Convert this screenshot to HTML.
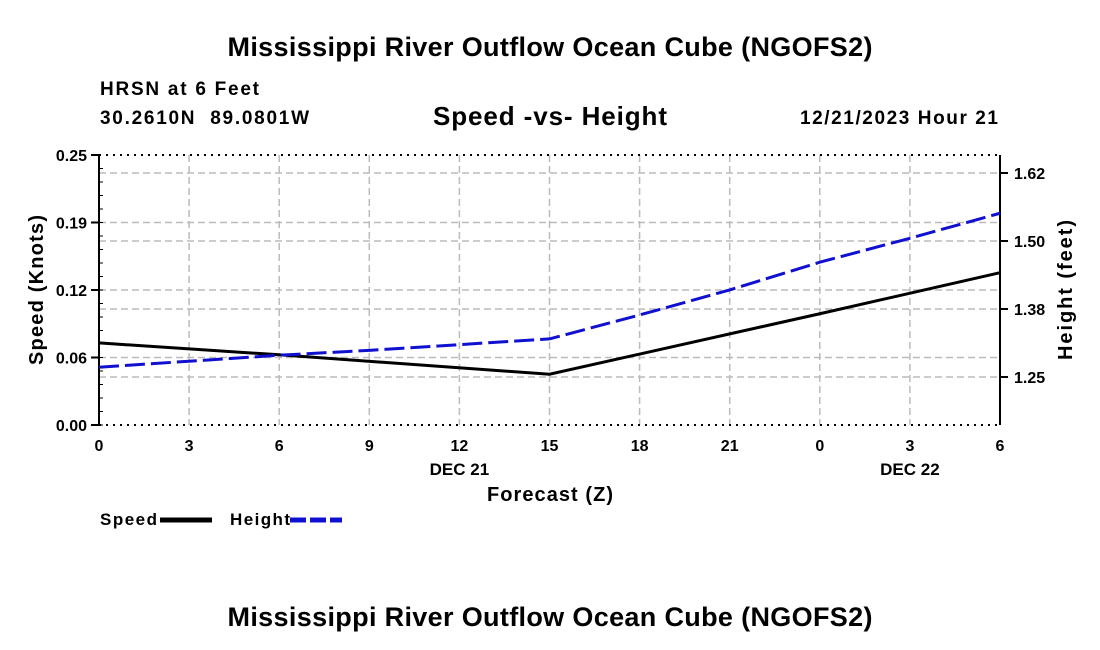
<!DOCTYPE html>
<html><head><meta charset="utf-8"><style>
body{margin:0;background:#fff;}
svg{display:block;font-family:"Liberation Sans",sans-serif;font-weight:bold;}
</style></head><body>
<svg id="c" width="1100" height="650" viewBox="0 0 1100 650">
<text x="550" y="56" text-anchor="middle" font-size="27" textLength="645">Mississippi River Outflow Ocean Cube (NGOFS2)</text>
<text x="100" y="95" font-size="19" textLength="159">HRSN at 6 Feet</text>
<text x="100" y="124" font-size="19" textLength="209" xml:space="preserve">30.2610N  89.0801W</text>
<text x="550" y="125" text-anchor="middle" font-size="26" textLength="234">Speed -vs- Height</text>
<text x="800" y="124" font-size="19" textLength="198">12/21/2023 Hour 21</text>
<g id="grid"></g><g id="axes"></g><g id="series"></g>
<text x="550" y="501" text-anchor="middle" font-size="20" textLength="126">Forecast (Z)</text>
<text transform="translate(43,290) rotate(-90)" text-anchor="middle" font-size="20" textLength="150">Speed (Knots)</text>
<text transform="translate(1072,290) rotate(-90)" text-anchor="middle" font-size="20" textLength="140">Height (feet)</text>
<text x="100" y="525" font-size="17" textLength="57">Speed</text>
<line x1="160" y1="520" x2="212" y2="520" stroke="#000" stroke-width="5"/>
<text x="230" y="525" font-size="17" textLength="60">Height</text>
<line x1="290" y1="520" x2="342" y2="520" stroke="#1010d0" stroke-width="5" stroke-dasharray="16,4"/>
<text x="550" y="626" text-anchor="middle" font-size="27" textLength="645">Mississippi River Outflow Ocean Cube (NGOFS2)</text>
</svg>
<script>
const hours=[0,6,15,24,30];
const speed=[0.076,0.065,0.047,0.103,0.141];
const heightHours=[0,6,9,15,18,21,24,27,30];
const heightVals=[1.268,1.290,1.299,1.320,1.364,1.410,1.461,1.505,1.551];
const xTickLabels=["0","3","6","9","12","15","18","21","0","3","6"];
const leftTicks=[0,0.0625,0.125,0.1875,0.25];
const leftTickLabels=["0.00","0.06","0.12","0.19","0.25"];
const rightTicks=[1.25,1.375,1.5,1.625];
const rightTickLabels=["1.25","1.38","1.50","1.62"];
const X0=99,X1=1000,Y0=425,Y1=155;
const xs=h=>X0+(X1-X0)*h/30;
const ysL=v=>Y0-(Y0-Y1)*v/0.25;
const ysR=v=>377-(v-1.25)*544;
const NS="http://www.w3.org/2000/svg";
function mk(p,t,a){const e=document.createElementNS(NS,t);for(const k in a)e.setAttribute(k,a[k]);p.appendChild(e);return e;}
const grid=document.getElementById('grid'),axes=document.getElementById('axes'),ser=document.getElementById('series');
xTickLabels.forEach((l,i)=>{const x=xs(i*3);
 if(i>0&&i<10){const g=mk(grid,'line',{x1:x,x2:x,y1:Y1,y2:Y0,stroke:'#bbb','stroke-width':1.5,'stroke-dasharray':'7,4'});
 
 }
 const t=mk(axes,'text',{x:x,y:451,'text-anchor':'middle','font-size':16});t.textContent=l;
 
 });
leftTicks.forEach((v,i)=>{const y=ysL(v);
 if(i>0&&i<4){const g=mk(grid,'line',{x1:X0,x2:X1,y1:y,y2:y,stroke:'#bbb','stroke-width':1.5,'stroke-dasharray':'7,4'});
 
 }
 mk(axes,'line',{x1:X0-8,x2:X0,y1:y,y2:y,stroke:'#000','stroke-width':2});
 const t=mk(axes,'text',{x:X0-12,y:y+6,'text-anchor':'end','font-size':16});t.textContent=leftTickLabels[i];
 
 });
for(let v=0;v<=0.25;v+=0.0125){mk(axes,'line',{x1:X0,x2:X0+4,y1:ysL(v),y2:ysL(v),stroke:'#000','stroke-width':1});}
rightTicks.forEach((v,i)=>{const y=ysR(v);
 const g=mk(grid,'line',{x1:X0,x2:X1,y1:y,y2:y,stroke:'#bbb','stroke-width':1.5,'stroke-dasharray':'7,4'});
 
 
 mk(axes,'line',{x1:X1,x2:X1+8,y1:y,y2:y,stroke:'#000','stroke-width':2});
 const t=mk(axes,'text',{x:X1+14,y:y+6,'font-size':16});t.textContent=rightTickLabels[i];
 
 });
mk(axes,'line',{x1:X0,x2:X1,y1:Y1,y2:Y1,stroke:'#000','stroke-width':2,'stroke-dasharray':'2,5'});
mk(axes,'line',{x1:X0,x2:X1,y1:Y0,y2:Y0,stroke:'#000','stroke-width':2,'stroke-dasharray':'2,5'});
mk(axes,'line',{x1:X0,x2:X0,y1:Y1,y2:Y0,stroke:'#000','stroke-width':2});
mk(axes,'line',{x1:X1,x2:X1,y1:Y1,y2:Y0,stroke:'#000','stroke-width':2});
[["DEC 21",12],["DEC 22",27]].forEach(([l,h])=>{const t=mk(axes,'text',{x:xs(h),y:475,'text-anchor':'middle','font-size':17});t.textContent=l;
 
 });
const sp=mk(ser,'polyline',{points:hours.map((h,i)=>xs(h)+','+ysL(speed[i])).join(' '),fill:'none',stroke:'#000','stroke-width':3});


const hl=mk(ser,'polyline',{points:heightHours.map((h,i)=>xs(h)+','+ysR(heightVals[i])).join(' '),fill:'none',stroke:'#1010d0','stroke-width':3,'stroke-dasharray':'20,6'});


</script>
</body></html>
